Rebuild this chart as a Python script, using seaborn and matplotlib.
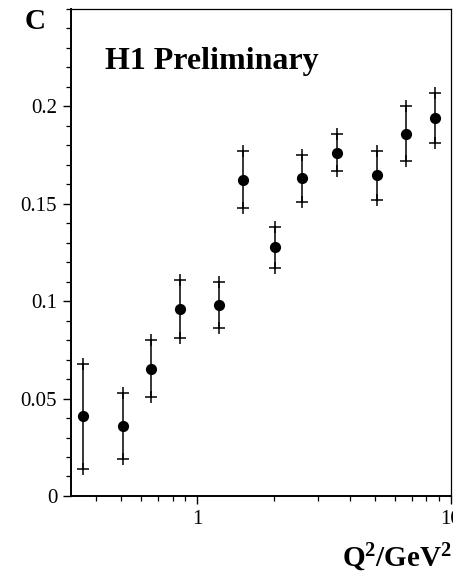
import matplotlib
matplotlib.use("Agg")
import matplotlib.pyplot as plt
import seaborn as sns
import numpy as np
import pandas as pd
from matplotlib.ticker import LogLocator, FixedLocator, MultipleLocator, NullFormatter

# Q^2 bins (GeV^2) and measured values with lower / upper error limits
q2 = [0.356, 0.51, 0.66, 0.86, 1.22, 1.52, 2.03, 2.59, 3.56, 5.11, 6.65, 8.65]
value = [0.041, 0.036, 0.065, 0.096, 0.098, 0.162, 0.128, 0.163, 0.176, 0.165, 0.186, 0.194]
upper = [0.068, 0.053, 0.080, 0.111, 0.110, 0.177, 0.138, 0.175, 0.186, 0.177, 0.200, 0.207]
lower = [0.014, 0.019, 0.051, 0.081, 0.086, 0.148, 0.117, 0.151, 0.167, 0.152, 0.172, 0.181]

y_ticks = [0, 0.05, 0.1, 0.15, 0.2]
y_tick_labels = ["0", "0.05", "0.1", "0.15", "0.2"]
x_ticks = [1, 10]
x_tick_labels = ["1", "10"]

df = pd.DataFrame({"q2": q2, "value": value, "upper": upper, "lower": lower})

sns.set_style("ticks", {"axes.edgecolor": "black", "text.color": "black",
                        "xtick.color": "black", "ytick.color": "black"})
plt.rcParams["font.family"] = ["Liberation Serif", "DejaVu Serif"]
plt.rcParams["mathtext.fontset"] = "custom"
plt.rcParams["mathtext.rm"] = "Liberation Serif"
plt.rcParams["mathtext.bf"] = "Liberation Serif:bold"

fig = plt.figure(figsize=(4.53, 5.79), dpi=100)
ax = fig.add_axes([0.157, 0.1434, 0.8386, 0.8411])

# vertical error bars
ax.errorbar(df["q2"], df["value"],
            yerr=[df["value"] - df["lower"], df["upper"] - df["value"]],
            fmt="none", ecolor="black", elinewidth=1.1, capsize=0, zorder=2)
# crossed end marks on each error bar
for col in ["upper", "lower"]:
    ax.plot(df["q2"], df[col], linestyle="none", marker="+", markersize=8,
            markeredgewidth=1.1, color="black", zorder=2)

sns.scatterplot(data=df, x="q2", y="value", ax=ax, color="black", s=65,
                edgecolor="black", linewidth=0, zorder=3, legend=False)

ax.set_xscale("log")
ax.set_xlim(0.319, 10.0)
ax.set_ylim(0, 0.25)

ax.xaxis.set_major_locator(FixedLocator(x_ticks))
ax.set_xticklabels(x_tick_labels)
ax.xaxis.set_minor_locator(LogLocator(base=10, subs=np.arange(2, 10)))
ax.xaxis.set_minor_formatter(NullFormatter())

ax.yaxis.set_major_locator(FixedLocator(y_ticks))
ax.set_yticklabels(y_tick_labels)
ax.yaxis.set_minor_locator(MultipleLocator(0.01))

ax.tick_params(which="major", direction="out", length=6, width=1.0,
               labelsize=15, colors="black", pad=4)
ax.tick_params(which="minor", direction="out", length=3.5, width=0.9,
               colors="black")

for side in ["left", "bottom"]:
    ax.spines[side].set_linewidth(1.4)
for side in ["top", "right"]:
    ax.spines[side].set_visible(True)
    ax.spines[side].set_linewidth(0.9)

ax.set_xlabel("")
ax.set_ylabel("")

fig.text(0.055, 0.963, "C", fontsize=21, fontweight="bold", color="black",
         ha="left", va="center")
ax.text(0.09, 0.893, "H1 Preliminary", transform=ax.transAxes, color="black",
        fontsize=23, fontweight="bold", ha="left", va="center")
fig.text(0.999, 0.021, r"$\mathbf{Q^2/GeV^2}$", fontsize=21, color="black",
         ha="right", va="baseline")

fig.savefig("out.png", dpi=100)
